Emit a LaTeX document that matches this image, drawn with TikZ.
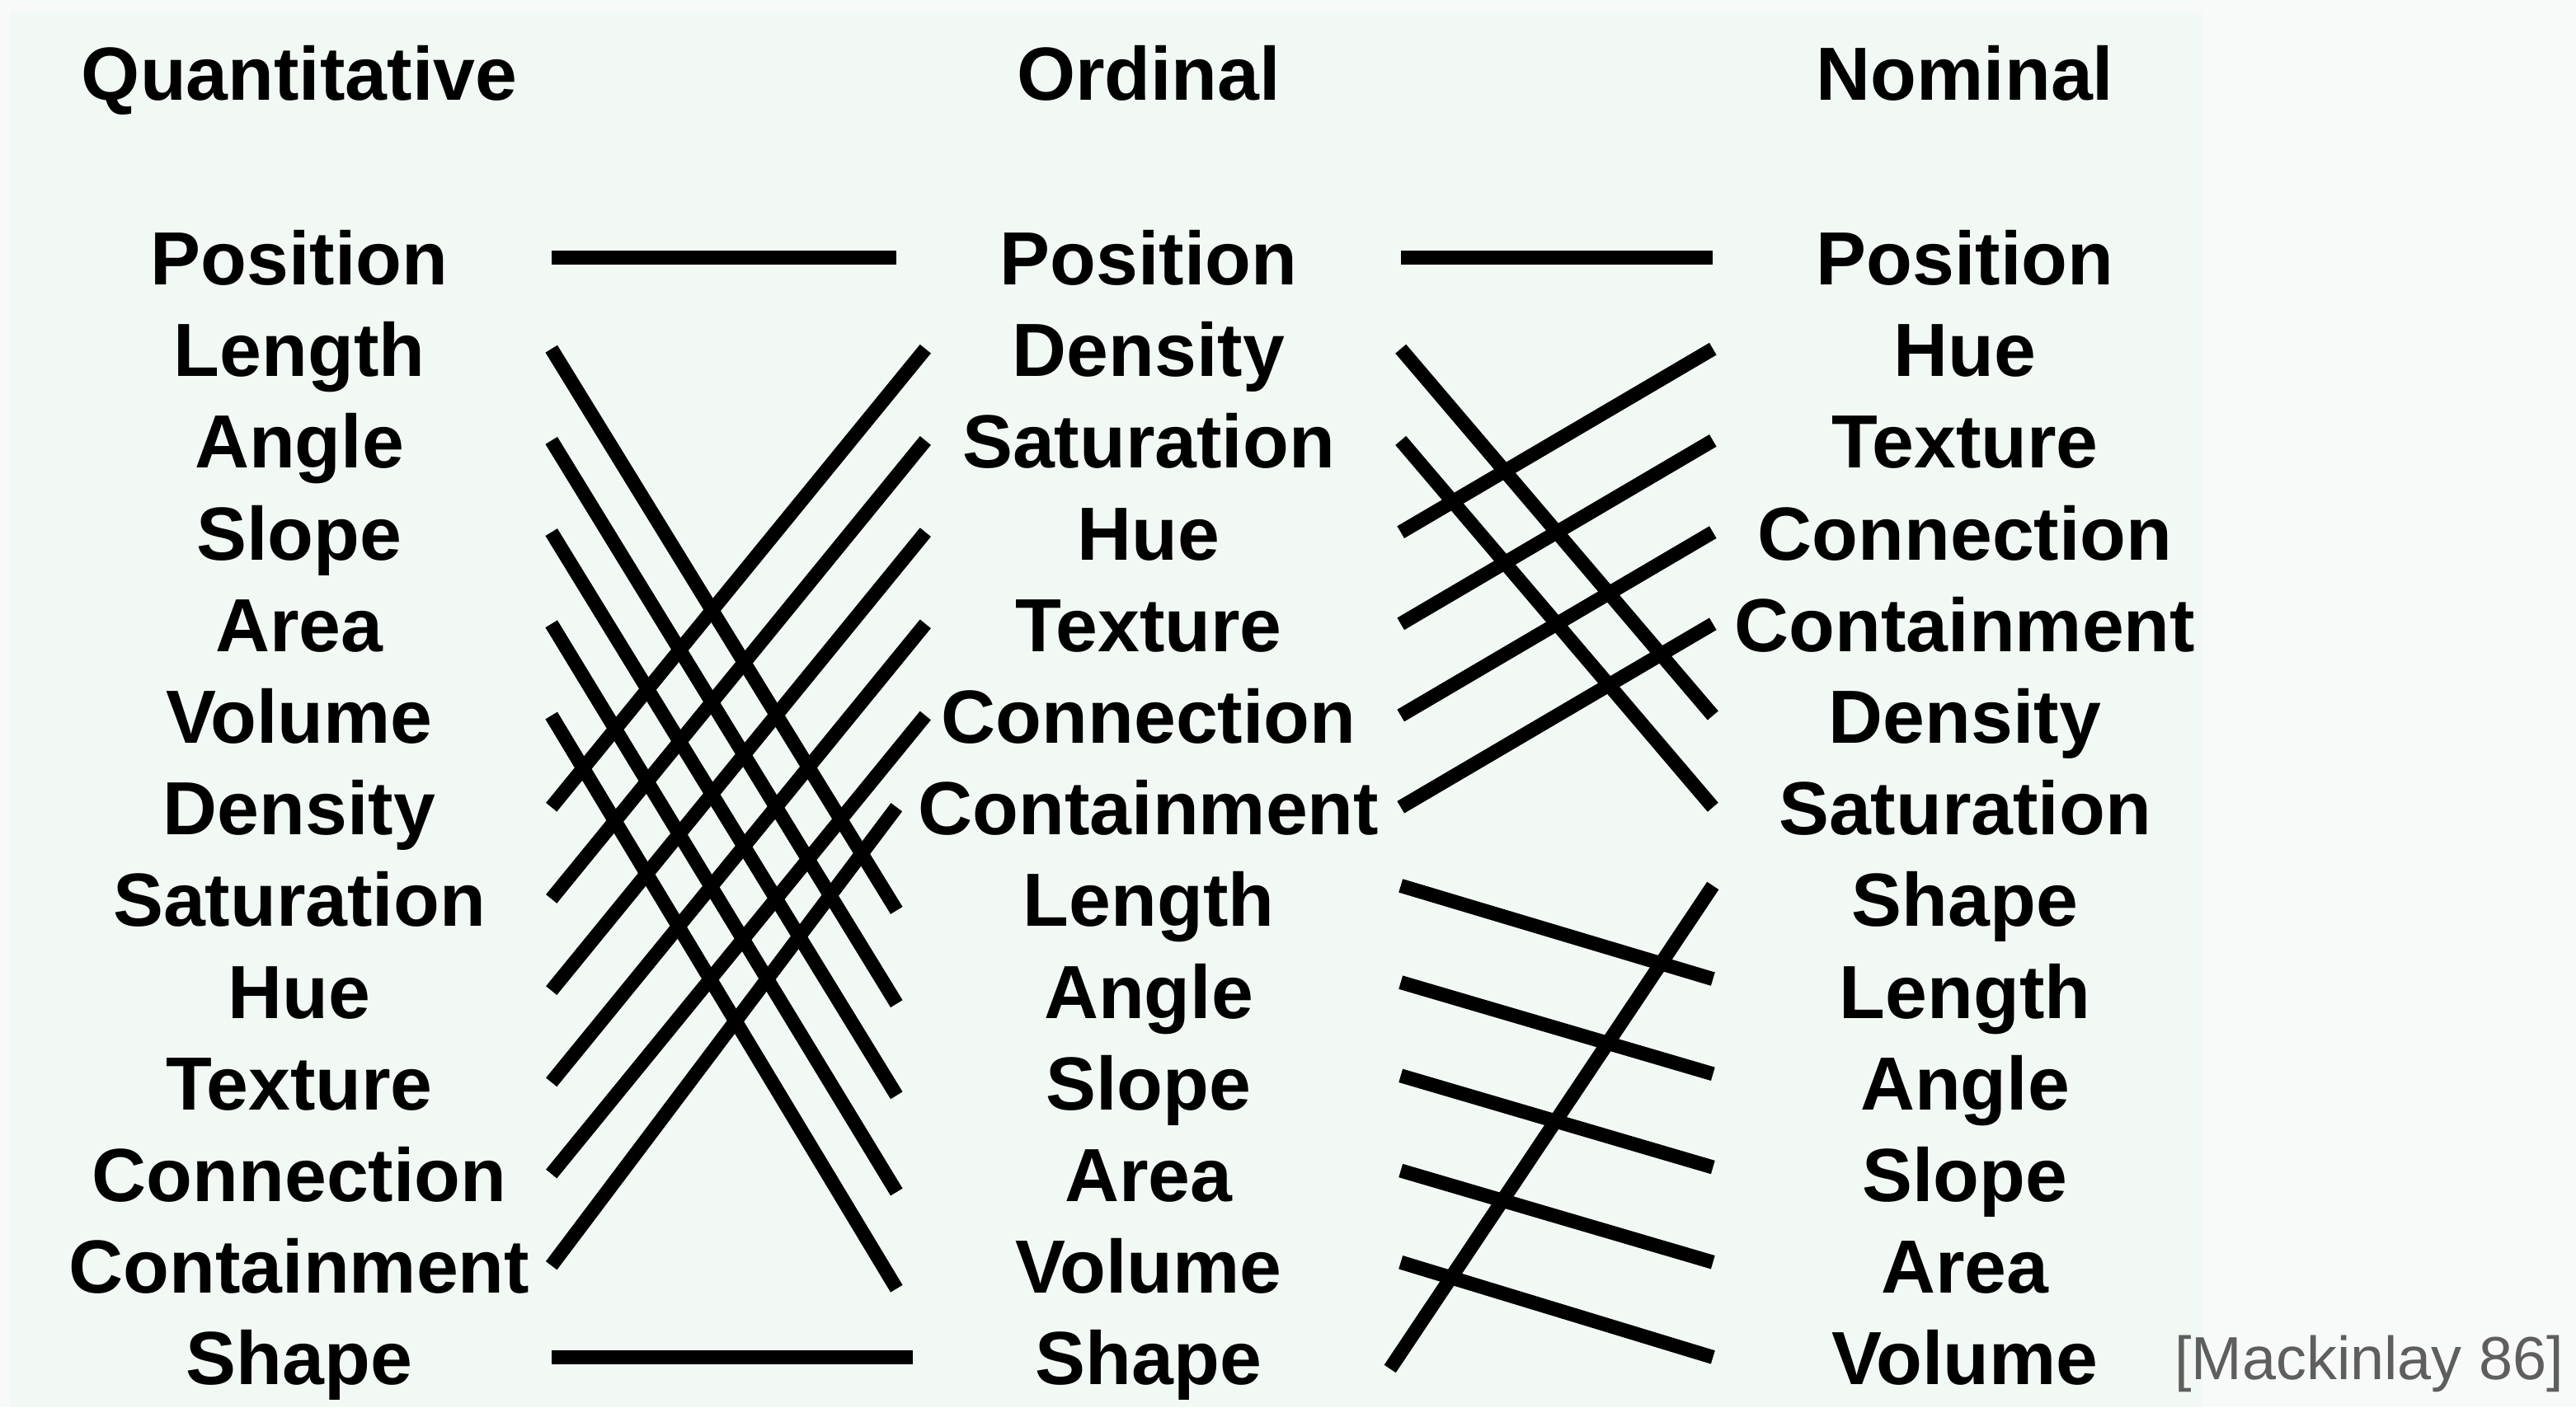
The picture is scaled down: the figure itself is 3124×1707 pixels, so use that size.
\documentclass[tikz,border=0pt]{standalone}
\usepackage{fontspec}
\setmainfont{Liberation Sans}
\usepackage{xcolor}
\usetikzlibrary{positioning}
\definecolor{panelbg}{HTML}{F2F8F4}
\definecolor{outerbg}{HTML}{F8FAF9}
\definecolor{citegray}{HTML}{5E5E5E}
\tikzset{
  lbl/.style={font=\fontsize{26}{30}\selectfont\bfseries, minimum width=61mm,
    text height=6.7mm, text depth=0pt, inner sep=0pt},
  link/.style={line width=1.7mm},
}

\begin{document}
\begin{tikzpicture}[x=0.1mm,y=-0.1mm]

  \fill[outerbg] (0,0) rectangle (3124,1707);
  \fill[panelbg] (12,14) rectangle (2670,1707);
  \useasboundingbox (0,0) rectangle (3124,1707);

  \node[lbl] (hq) at (363,88) {Quantitative};
  \node[lbl] (ho) at (1393,88) {Ordinal};
  \node[lbl] (hn) at (2383,88) {Nominal};

  \foreach \t [count=\i] in {Position,Length,Angle,Slope,Area,Volume,Density,Saturation,Hue,Texture,Connection,Containment,Shape}
    \node[lbl] (q\i) at (363,{312+111.2*(\i-1)}) {\t};
  \foreach \t [count=\i] in {Position,Density,Saturation,Hue,Texture,Connection,Containment,Length,Angle,Slope,Area,Volume,Shape}
    \node[lbl] (o\i) at (1393,{312+111.2*(\i-1)}) {\t};
  \foreach \t [count=\i] in {Position,Hue,Texture,Connection,Containment,Density,Saturation,Shape,Length,Angle,Slope,Area,Volume}
    \node[lbl] (n\i) at (2383,{312+111.2*(\i-1)}) {\t};

  % quantitative -> ordinal
  \draw[link] (q1.east) -- (o1.west);
  \foreach \a/\b/\d in {2/8/14,3/9/16,4/10/16,5/11/22,6/12/28}
    \draw[link] (q\a.east) -- ([yshift=-\d*0.1mm]o\b.west);
  \foreach \a/\b in {7/2,8/3,9/4,10/5,11/6}
    \draw[link] (q\a.east) -- ([xshift=3.5mm]o\b.west);
  \draw[link] (q12.east) -- (o7.west);
  \draw[link] (q13.east) -- ([xshift=2mm]o13.west);

  % ordinal -> nominal
  \foreach \a/\b in {1/1,2/6,3/7,4/2,5/3,6/4,7/5}
    \draw[link] (o\a.east) -- (n\b.west);
  \foreach \a/\b/\d/\e in {8/9/16/14,9/10/10/10,10/11/8/8,11/12/4/4,12/13/4/0}
    \draw[link] ([yshift=\d*0.1mm]o\a.east) -- ([yshift=\e*0.1mm]n\b.west);
  \draw[link] ([xshift=-1.3mm,yshift=-1.4mm]o13.east) -- ([yshift=1.6mm]n8.west);

  \node[font=\fontsize{21}{24}\selectfont, text=citegray, text height=5.4mm,
    text depth=0pt, inner sep=0pt] (cite) at (2873,1646) {[Mackinlay 86]};

\end{tikzpicture}
\end{document}
